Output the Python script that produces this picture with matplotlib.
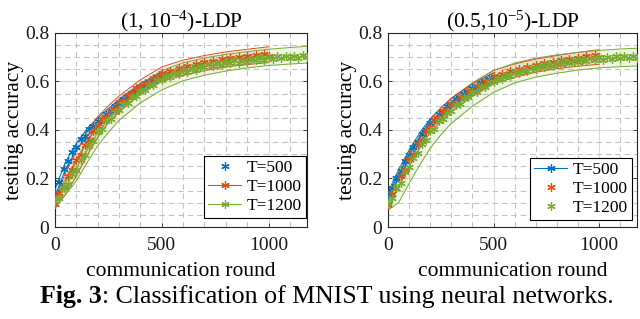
import numpy as np
import matplotlib
matplotlib.use('Agg')
import matplotlib.pyplot as plt

plt.rcParams['font.family'] = ['Liberation Serif', 'DejaVu Serif']
plt.rcParams['mathtext.fontset'] = 'custom'
plt.rcParams['mathtext.rm'] = 'Liberation Serif'
plt.rcParams['mathtext.it'] = 'Liberation Serif:italic'
plt.rcParams['mathtext.bf'] = 'Liberation Serif:bold'

# rounds at which accuracy is sampled (every 20 rounds)
rounds_500 = np.arange(0, 501, 20)
rounds_1000 = np.arange(0, 1001, 20)
rounds_1200 = np.arange(0, 1181, 20)
# rounds at which the shaded band edges are read
band_x = [0, 50, 100, 150, 200, 250, 300, 400, 500, 600, 700, 800, 900, 1000, 1100, 1180]

# ---- (1, 1e-4)-LDP ----
a_blue = [0.143, 0.187, 0.241, 0.272, 0.308, 0.330, 0.361, 0.377, 0.403, 0.415, 0.437, 0.447, 0.468,
          0.477, 0.498, 0.507, 0.527, 0.535, 0.554, 0.561, 0.579, 0.583, 0.599, 0.602, 0.617, 0.619]
a_orange = [0.096, 0.140, 0.164, 0.209, 0.233, 0.276, 0.298, 0.339, 0.358, 0.397, 0.415, 0.446, 0.454,
            0.481, 0.488, 0.514, 0.520, 0.545, 0.549, 0.572, 0.574, 0.594, 0.595, 0.616, 0.616, 0.635,
            0.629, 0.644, 0.640, 0.656, 0.651, 0.664, 0.657, 0.671, 0.666, 0.681, 0.674, 0.686, 0.678,
            0.691, 0.685, 0.698, 0.690, 0.701, 0.692, 0.704, 0.697, 0.710, 0.702, 0.713, 0.704]
a_green = [0.106, 0.120, 0.159, 0.177, 0.217, 0.236, 0.278, 0.297, 0.335, 0.354, 0.393, 0.406, 0.436,
           0.445, 0.474, 0.482, 0.508, 0.513, 0.537, 0.540, 0.562, 0.563, 0.585, 0.587, 0.608, 0.607,
           0.622, 0.618, 0.635, 0.632, 0.648, 0.641, 0.654, 0.648, 0.663, 0.658, 0.671, 0.663, 0.675,
           0.668, 0.682, 0.675, 0.687, 0.678, 0.689, 0.681, 0.694, 0.687, 0.699, 0.690, 0.701, 0.692,
           0.704, 0.696, 0.707, 0.697, 0.707, 0.698, 0.710, 0.702]
a_blue_lo = [0.125, 0.24, 0.315, 0.375, 0.418, 0.456, 0.494, 0.56, 0.606]
a_blue_hi = [0.155, 0.27, 0.345, 0.405, 0.45, 0.488, 0.526, 0.592, 0.638]
a_orange_lo = [0.078, 0.135, 0.21, 0.295, 0.37, 0.43, 0.475, 0.548, 0.60, 0.625, 0.645, 0.66, 0.67, 0.678]
a_orange_hi = [0.115, 0.225, 0.31, 0.39, 0.455, 0.50, 0.54, 0.607, 0.66, 0.688, 0.707, 0.722, 0.733, 0.743]
a_green_lo = [0.085, 0.135, 0.19, 0.265, 0.335, 0.39, 0.44, 0.512, 0.565, 0.603, 0.626, 0.643, 0.656,
              0.666, 0.672, 0.676]
a_green_hi = [0.115, 0.20, 0.28, 0.355, 0.42, 0.472, 0.518, 0.585, 0.645, 0.677, 0.697, 0.712, 0.723,
              0.733, 0.740, 0.745]

# ---- (0.5, 1e-5)-LDP ----
b_blue = [0.133, 0.162, 0.203, 0.232, 0.271, 0.295, 0.330, 0.351, 0.382, 0.400, 0.428, 0.441, 0.465,
          0.476, 0.498, 0.507, 0.526, 0.532, 0.550, 0.555, 0.572, 0.576, 0.592, 0.596, 0.611, 0.614]
b_orange = [0.091, 0.137, 0.162, 0.209, 0.235, 0.281, 0.302, 0.341, 0.358, 0.395, 0.412, 0.442, 0.450,
            0.477, 0.483, 0.509, 0.513, 0.536, 0.538, 0.559, 0.560, 0.581, 0.583, 0.604, 0.604, 0.623,
            0.617, 0.632, 0.628, 0.644, 0.639, 0.652, 0.645, 0.659, 0.654, 0.669, 0.663, 0.675, 0.667,
            0.680, 0.674, 0.688, 0.681, 0.693, 0.684, 0.696, 0.690, 0.704, 0.697, 0.708, 0.700]
b_green = [0.101, 0.120, 0.159, 0.182, 0.225, 0.246, 0.286, 0.304, 0.341, 0.358, 0.395, 0.406, 0.436,
           0.445, 0.472, 0.479, 0.504, 0.509, 0.533, 0.535, 0.557, 0.557, 0.578, 0.579, 0.599, 0.598,
           0.613, 0.609, 0.626, 0.623, 0.639, 0.633, 0.647, 0.642, 0.657, 0.652, 0.666, 0.659, 0.672,
           0.665, 0.679, 0.673, 0.686, 0.677, 0.688, 0.680, 0.693, 0.686, 0.698, 0.689, 0.699, 0.690,
           0.702, 0.694, 0.705, 0.695, 0.704, 0.695, 0.706, 0.698]
b_blue_lo = [0.115, 0.20, 0.28, 0.345, 0.405, 0.45, 0.49, 0.55, 0.598]
b_blue_hi = [0.145, 0.235, 0.318, 0.388, 0.447, 0.49, 0.53, 0.59, 0.636]
b_orange_lo = [0.08, 0.165, 0.25, 0.325, 0.39, 0.435, 0.477, 0.538, 0.59, 0.617, 0.638, 0.653, 0.663, 0.671]
b_orange_hi = [0.11, 0.207, 0.30, 0.375, 0.443, 0.49, 0.532, 0.594, 0.646, 0.672, 0.692, 0.707, 0.72, 0.731]
b_green_lo = [0.07, 0.10, 0.18, 0.255, 0.325, 0.38, 0.427, 0.498, 0.555, 0.594, 0.618, 0.634, 0.647,
              0.656, 0.661, 0.664]
b_green_hi = [0.125, 0.24, 0.31, 0.372, 0.425, 0.474, 0.518, 0.59, 0.645, 0.676, 0.696, 0.71, 0.72,
              0.728, 0.734, 0.737]

labels = ['T=500', 'T=1000', 'T=1200']
colors = ['#0072BD', '#D95319', '#77AC30']
titles = ['(1, 10$^{-4}$)-LDP', '(0.5,10$^{-5}$)-LDP']
caption_bold = 'Fig. 3'
caption_rest = ': Classification of MNIST using neural networks.'

panels = [
    dict(means=[a_blue, a_orange, a_green],
         lo=[a_blue_lo, a_orange_lo, a_green_lo], hi=[a_blue_hi, a_orange_hi, a_green_hi],
         styles=['none', '-', '-'], rect=[0.0859, 0.2884, 0.3938, 0.6082], leg=(0.996, 0.046)),
    dict(means=[b_blue, b_orange, b_green],
         lo=[b_blue_lo, b_orange_lo, b_green_lo], hi=[b_blue_hi, b_orange_hi, b_green_hi],
         styles=['-', 'none', 'none'], rect=[0.6063, 0.2884, 0.389, 0.6082], leg=(0.98, 0.036)),
]
xs = [rounds_500, rounds_1000, rounds_1200]
star = (6, 2, 0)

fig = plt.figure(figsize=(6.4, 3.19), dpi=100)

for k, p in enumerate(panels):
    ax = fig.add_axes(p['rect'])
    # shaded bands
    for i in range(3):
        n = len(p['lo'][i])
        bx = band_x[:n]
        ax.fill_between(bx, p['lo'][i], p['hi'][i], color=colors[i], alpha=0.13, lw=0, zorder=1)
        ax.plot(bx, p['lo'][i], color=colors[i], lw=0.7, zorder=2)
        ax.plot(bx, p['hi'][i], color=colors[i], lw=0.7, zorder=2)
    handles = []
    for i in range(3):
        h, = ax.plot(xs[i], p['means'][i], linestyle=p['styles'][i], color=colors[i], lw=0.8,
                     marker=star, markersize=6, markeredgewidth=0.9, label=labels[i], zorder=3 + i)
        handles.append(h)

    ax.set_xlim(0, 1180)
    ax.set_ylim(0, 0.8)
    ax.set_xticks([0, 500, 1000])
    ax.set_yticks([0, 0.2, 0.4, 0.6, 0.8])
    ax.set_yticklabels(['0', '0.2', '0.4', '0.6', '0.8'])
    ax.set_xticks(np.arange(100, 1180, 100), minor=True)
    ax.set_yticks(np.arange(0.05, 0.8, 0.05), minor=True)
    ax.grid(True, which='major', color='#d9d9d9', lw=0.8, ls='-')
    ax.grid(True, which='minor', color='#c4c4c4', lw=0.8, ls=(0, (5, 3.5)))
    ax.set_axisbelow(True)
    ax.tick_params(which='major', direction='in', length=3, width=0.6, top=True, right=True,
                   labelsize=14, colors='#262626', labelcolor='#1a1a1a', pad=4)
    ax.tick_params(axis='x', which='major', pad=7)
    ax.tick_params(which='minor', length=0)
    for s in ax.spines.values():
        s.set_color('#262626')
        s.set_linewidth(0.8)
    ax.set_xlabel('communication round', fontsize=15.5, labelpad=6)
    ax.set_ylabel('testing accuracy', fontsize=15.5, labelpad=1)
    ax.set_title(titles[k], fontsize=15.5, pad=4)
    leg = ax.legend(handles=handles, loc='lower right', bbox_to_anchor=p['leg'], fontsize=12.5,
                    frameon=True, fancybox=False, framealpha=1, edgecolor='black',
                    borderpad=0.25, labelspacing=0.15, handlelength=1.9, handletextpad=0.3,
                    borderaxespad=0)
    leg.get_frame().set_linewidth(0.8)

# caption: bold "Fig. 3" followed by regular text, centred as a whole
t1 = fig.text(0, 0.05, caption_bold, ha='left', va='baseline', fontsize=18.6, fontweight='bold')
t2 = fig.text(0, 0.05, caption_rest, ha='left', va='baseline', fontsize=18.6)
r = fig.canvas.get_renderer()
w1 = t1.get_window_extent(r).width
w2 = t2.get_window_extent(r).width
x0 = 326.5 - (w1 + w2) / 2
t1.set_x(x0 / 640)
t2.set_x((x0 + w1) / 640)

fig.savefig('out.png', dpi=100)
